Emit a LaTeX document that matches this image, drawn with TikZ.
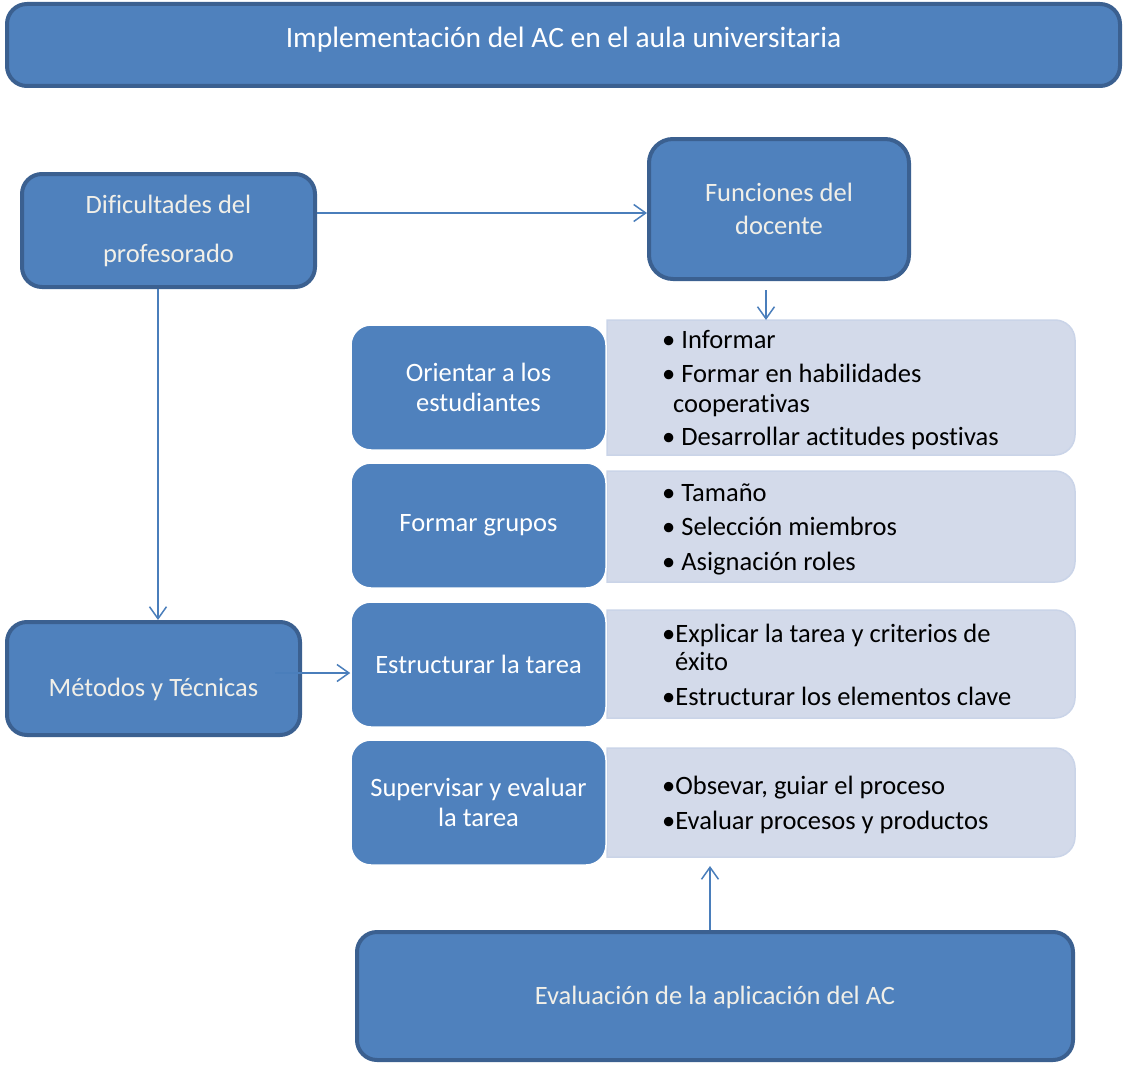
\documentclass[tikz,border=0pt]{standalone}
\usepackage{fontspec}
\setmainfont{Carlito}[Ligatures=NoCommon]
\usetikzlibrary{arrows.meta,calc}

\definecolor{acc}{HTML}{4F81BD}
\definecolor{accdark}{HTML}{3B6090}
\definecolor{lightfill}{HTML}{D3DAEA}
\definecolor{lightedge}{HTML}{CAD4E8}
\definecolor{offwhite}{HTML}{F1EFE8}
\definecolor{arrowc}{HTML}{4A7EBB}

\tikzset{
  mainbox/.style={draw=accdark, line width=4pt, fill=acc, rounded corners=20pt,
    text=offwhite, align=center, inner sep=0pt, font=\fontsize{26.5}{30}\selectfont},
  stagebox/.style={draw=white, line width=1.5pt, fill=acc, rounded corners=20pt,
    text=white, align=center, inner sep=0pt, minimum width=255pt, minimum height=125pt,
    font=\fontsize{26.5}{30}\selectfont},
  panel/.style={inner sep=0pt, outer sep=0pt, minimum width=468pt},
  listtext/.style={anchor=west, align=left, inner sep=0pt, text=black,
    font=\fontsize{26.5}{30}\selectfont},
  flow/.style={draw=arrowc, line width=1.5pt, -{Straight Barb[length=12pt,width=17pt]}},
}

% light panel with square left side and rounded right corners
\newcommand\listpanel[1]{%
  \draw[draw=lightedge, fill=lightfill, line width=1.5pt]
    (#1.north west) -- ([xshift=-20pt]#1.north east)
    arc[start angle=90, end angle=0, radius=20pt]
    -- ([yshift=20pt]#1.south east)
    arc[start angle=0, end angle=-90, radius=20pt]
    -- (#1.south west) -- cycle;}

\begin{document}
\begin{tikzpicture}
\useasboundingbox (0,0) rectangle (1125pt,-1065pt);

% title bar
\node[mainbox, text=white, minimum width=1113pt, minimum height=82pt,
      font=\fontsize{29.5}{32}\selectfont, text height=20pt, text depth=14pt]
  (title) at (563.5pt,-45pt) {Implementación del AC en el aula universitaria};

% main blocks
\node[mainbox, minimum width=293pt, minimum height=113pt]
  (dif) at (168.5pt,-230.5pt) {Dificultades del\\[19pt]profesorado};
\node[mainbox, minimum width=260pt, minimum height=140pt, rounded corners=24pt]
  (fun) at (779pt,-209pt) {Funciones del\\[3pt]docente};
\node[mainbox, minimum width=293pt, minimum height=113pt, text height=42pt, text depth=7pt]
  (met) at (153.5pt,-678.5pt) {Métodos y Técnicas};
\node[mainbox, minimum width=716pt, minimum height=128pt, text height=24pt, text depth=7pt]
  (eva) at (715pt,-996pt) {Evaluación de la aplicación del AC};

% list panels
\node[panel, minimum height=135pt] (p1) at (841pt,-387.5pt) {};
\node[panel, minimum height=111pt] (p2) at (841pt,-526.5pt) {};
\node[panel, minimum height=108pt] (p3) at (841pt,-664pt) {};
\node[panel, minimum height=109pt] (p4) at (841pt,-802.5pt) {};
\listpanel{p1}
\listpanel{p2}
\listpanel{p3}
\listpanel{p4}

% teacher functions
\node[stagebox] (ori) at (478.5pt,-387.5pt) {Orientar a los\\estudiantes};
\node[stagebox] (gru) at (478.5pt,-525.5pt) {Formar grupos};
\node[stagebox] (est) at (478.5pt,-664.5pt) {Estructurar la tarea};
\node[stagebox] (sup) at (478.5pt,-802.5pt) {Supervisar y evaluar\\la tarea};

% list contents
\node[listtext] (t1) at (662pt,-390.5pt)
  {• Informar\\[4pt]• Formar en habilidades\\\hspace*{11pt}cooperativas\\[3pt]• Desarrollar actitudes postivas};
\node[listtext] (t2) at (662pt,-529.5pt)
  {• Tamaño\\[4pt]• Selección miembros\\[5pt]• Asignación roles};
\node[listtext] (t3) at (662pt,-664.5pt)
  {•Explicar la tarea y criterios de\\[-2pt]\hspace*{13pt}éxito\\[5pt]•Estructurar los elementos clave};
\node[listtext] (t4) at (662pt,-804.5pt)
  {•Obsevar, guiar el proceso\\[5pt]•Evaluar procesos y productos};

% connectors
\draw[flow] ([yshift=17.5pt]dif.east) -- ([yshift=17.5pt]dif.east -| fun.west);
\coordinate (fdown) at (766pt,-290pt);
\draw[flow] (fdown) -- (fdown |- p1.north);
\coordinate (dcol) at (158pt,-300pt);
\draw[flow] (dcol |- dif.south) -- (dcol |- met.north);
\coordinate (mstart) at (275pt,-673pt);
\draw[flow] (mstart) -- (mstart -| est.west);
\coordinate (eup) at (710pt,-930pt);
\coordinate (eend) at (710pt,-866pt);
\draw[flow] (eup |- eva.north) -- (eend);
\end{tikzpicture}
\end{document}
